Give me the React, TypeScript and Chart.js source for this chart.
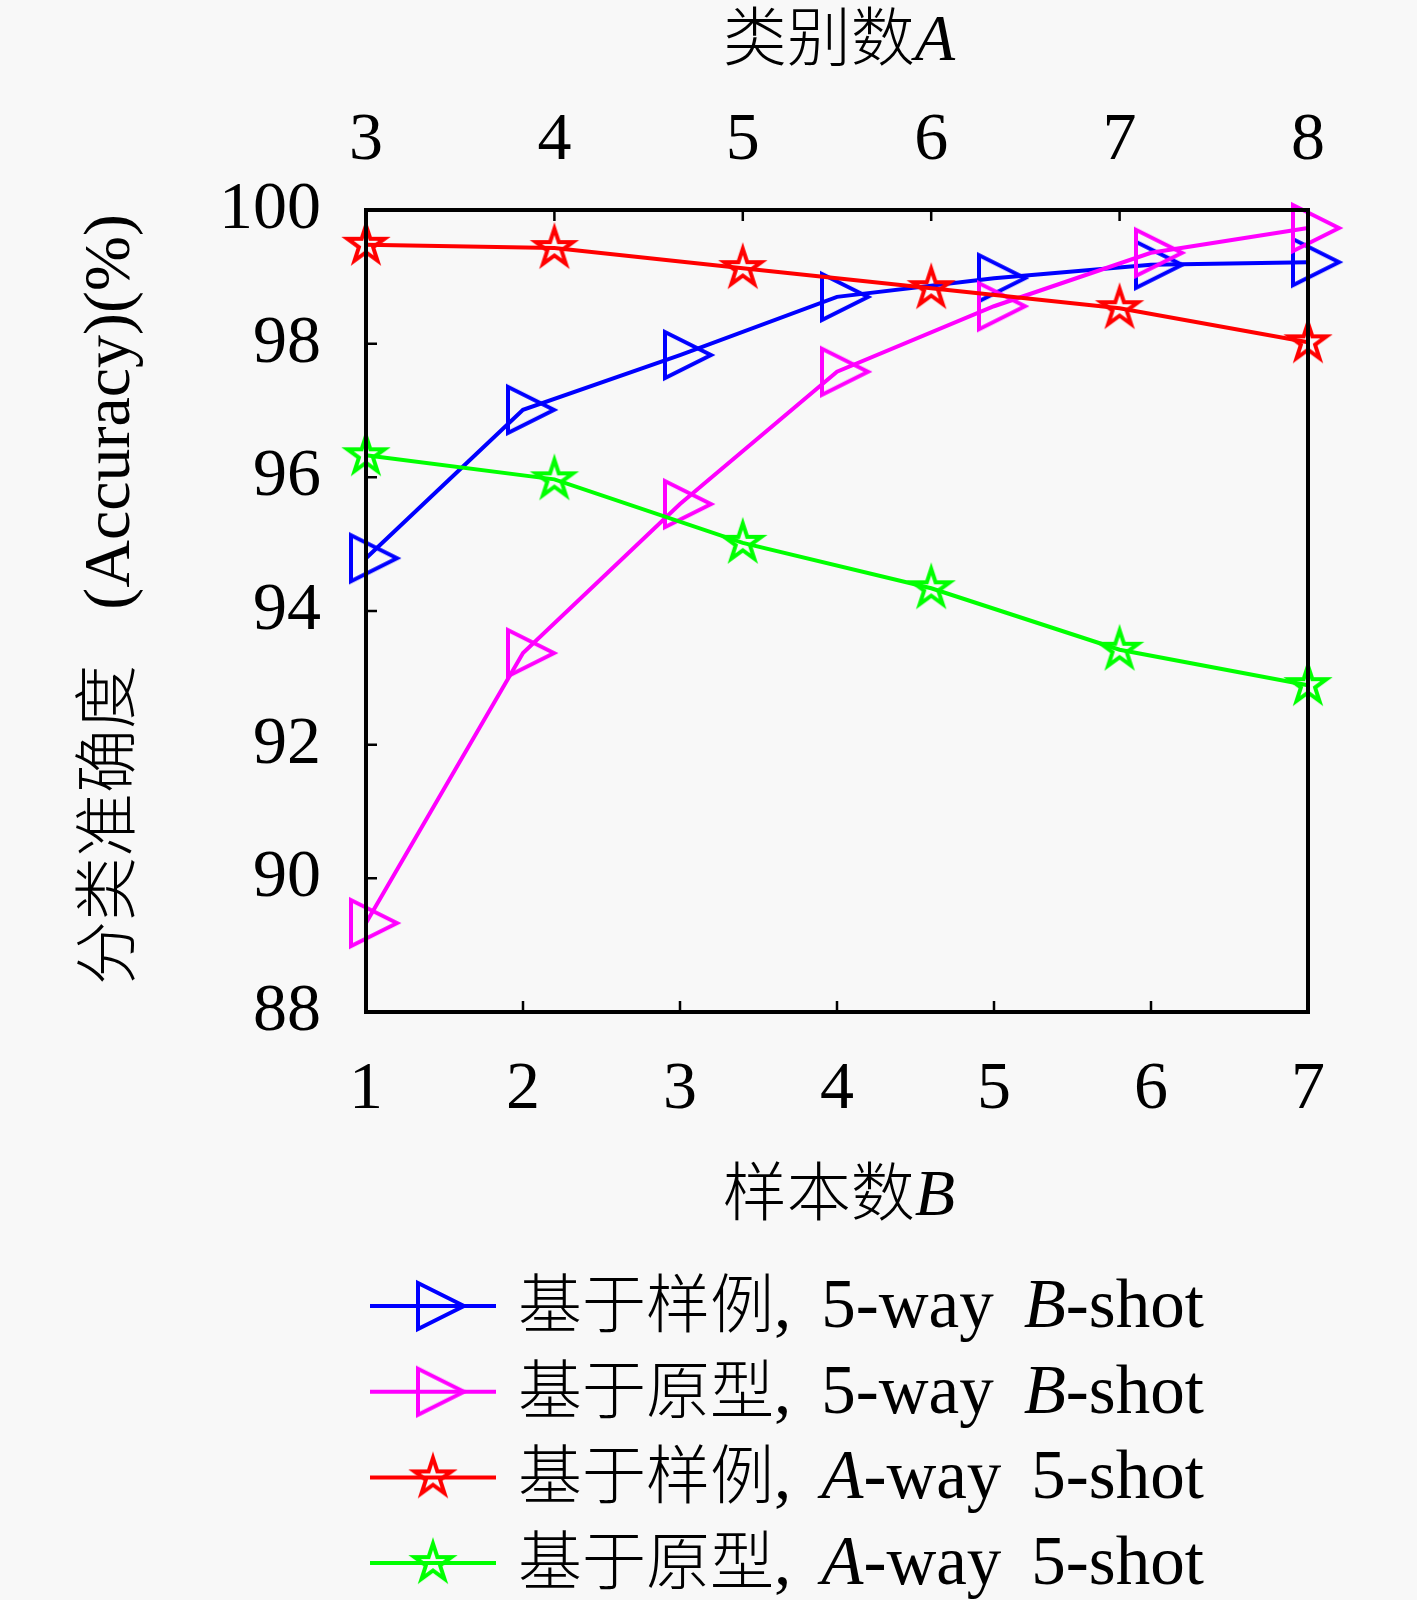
import { useEffect, useRef } from "react";
import { Chart, registerables } from "chart.js";

Chart.register(...registerables);

// 样本数 B (bottom axis) and 类别数 A (top axis)
const samplesB = [1, 2, 3, 4, 5, 6, 7];
const classesA = [3, 4, 5, 6, 7, 8];
const yTicks = [88, 90, 92, 94, 96, 98, 100];

// accuracy (%) per series
const exemplarWayB = [94.79, 97.01, 97.83, 98.7, 98.98, 99.18, 99.22];
const prototypeWayB = [89.33, 93.37, 95.6, 97.58, 98.56, 99.36, 99.73];
const exemplarWayA = [99.48, 99.43, 99.13, 98.83, 98.53, 98.02];
const prototypeWayA = [96.33, 95.97, 95.02, 94.34, 93.42, 92.89];

type Seg = [string, "cjk" | "rm" | "it" | "gap"];

const legendLabels: Seg[][] = [
  [["基于样例", "cjk"], [",", "rm"], ["", "gap"], ["5-way", "rm"], ["", "gap"], ["B", "it"], ["-shot", "rm"]],
  [["基于原型", "cjk"], [",", "rm"], ["", "gap"], ["5-way", "rm"], ["", "gap"], ["B", "it"], ["-shot", "rm"]],
  [["基于样例", "cjk"], [",", "rm"], ["", "gap"], ["A", "it"], ["-way", "rm"], ["", "gap"], ["5-shot", "rm"]],
  [["基于原型", "cjk"], [",", "rm"], ["", "gap"], ["A", "it"], ["-way", "rm"], ["", "gap"], ["5-shot", "rm"]],
];
const topTitle: Seg[] = [["类别数", "cjk"], ["A", "it"]];
const bottomTitle: Seg[] = [["样本数", "cjk"], ["B", "it"]];
const yTitleCjk: Seg[] = [["分类准确度", "cjk"]];
const yTitleRm: Seg[] = [["(Accuracy)(%)", "rm"]];

const SERIF = '"Liberation Serif", "DejaVu Serif", serif';
const CJK = '"Noto Sans CJK SC", sans-serif';

function fontFor(style: string, size: number, latinSize: number) {
  if (style === "cjk") return `300 ${size}px ${CJK}`;
  if (style === "it") return `italic ${latinSize}px ${SERIF}`;
  return `${latinSize}px ${SERIF}`;
}

function drawSegs(
  ctx: CanvasRenderingContext2D,
  segs: Seg[],
  x: number,
  y: number,
  size: number,
  align: string,
  latinSize = size,
  gap = 30
) {
  const widths = segs.map(([t, s]) => {
    if (s === "gap") return gap;
    ctx.font = fontFor(s, size, latinSize);
    return ctx.measureText(t).width;
  });
  const total = widths.reduce((a, b) => a + b, 0);
  let cx = align === "center" ? x - total / 2 : align === "right" ? x - total : x;
  ctx.textAlign = "left";
  ctx.textBaseline = "alphabetic";
  ctx.fillStyle = "#000";
  segs.forEach(([t, s], i) => {
    if (s !== "gap") {
      ctx.font = fontFor(s, size, latinSize);
      ctx.fillText(t, cx, y);
    }
    cx += widths[i];
  });
}

function makeTriangle(color: string) {
  const c = document.createElement("canvas");
  c.width = 80;
  c.height = 64;
  const g = c.getContext("2d")!;
  g.strokeStyle = color;
  g.lineWidth = 4;
  g.lineJoin = "miter";
  g.beginPath();
  g.moveTo(40 - 15, 32 - 23);
  g.lineTo(40 + 31, 32);
  g.lineTo(40 - 15, 32 + 23);
  g.closePath();
  g.stroke();
  return c;
}

function makeStar(color: string) {
  const c = document.createElement("canvas");
  c.width = 70;
  c.height = 70;
  const g = c.getContext("2d")!;
  const R = 19.5;
  const r = R * 0.382;
  g.strokeStyle = color;
  g.lineWidth = 4;
  g.lineJoin = "miter";
  g.beginPath();
  for (let k = 0; k < 10; k++) {
    const a = -Math.PI / 2 + (k * Math.PI) / 5;
    const rad = k % 2 === 0 ? R : r;
    const px = 35 + rad * Math.cos(a);
    const py = 35 + rad * Math.sin(a);
    if (k === 0) g.moveTo(px, py);
    else g.lineTo(px, py);
  }
  g.closePath();
  g.stroke();
  return c;
}

const framePlugin = {
  id: "framePlugin",
  beforeDraw(chart: any) {
    const ctx = chart.ctx;
    ctx.save();
    ctx.fillStyle = "#f8f8f8";
    ctx.fillRect(0, 0, chart.width, chart.height);
    ctx.restore();
  },
  afterDatasetsDraw(chart: any) {
    const { ctx, chartArea } = chart;
    const { left, right, top, bottom } = chartArea;
    const sx = chart.scales.x;
    const sx2 = chart.scales.x2;
    const sy = chart.scales.y;
    ctx.save();
    ctx.strokeStyle = "#000";
    ctx.lineWidth = 2.5;
    ctx.beginPath();
    sy.ticks.forEach((t: any) => {
      const py = sy.getPixelForValue(t.value);
      ctx.moveTo(left, py);
      ctx.lineTo(left + 11, py);
    });
    sx.ticks.forEach((t: any) => {
      const px = sx.getPixelForValue(t.value);
      ctx.moveTo(px, bottom);
      ctx.lineTo(px, bottom - 11);
    });
    sx2.ticks.forEach((t: any) => {
      const px = sx2.getPixelForValue(t.value);
      ctx.moveTo(px, top);
      ctx.lineTo(px, top + 11);
    });
    ctx.stroke();
    ctx.lineWidth = 4;
    ctx.strokeRect(left, top, right - left, bottom - top);
    ctx.restore();
  },
  afterDraw(chart: any) {
    const { ctx, chartArea } = chart;
    const { left, right, top, bottom } = chartArea;
    const mid = (left + right) / 2 + 2;
    ctx.save();
    drawSegs(ctx, topTitle, mid, 60, 64, "center", 66);
    drawSegs(ctx, bottomTitle, mid, bottom + 203, 64, "center", 66);

    ctx.save();
    ctx.translate(129, bottom - 27);
    ctx.rotate(-Math.PI / 2);
    drawSegs(ctx, yTitleCjk, 0, 0, 64, "left");
    ctx.restore();
    ctx.save();
    ctx.translate(129, top + 4);
    ctx.rotate(-Math.PI / 2);
    drawSegs(ctx, yTitleRm, 0, 0, 64, "right", 66);
    ctx.restore();

    // legend
    chart.data.datasets.forEach((ds: any, i: number) => {
      const rowY = 1306 + i * 85.7;
      ctx.strokeStyle = ds.borderColor;
      ctx.lineWidth = 4;
      ctx.beginPath();
      ctx.moveTo(left + 4, rowY);
      ctx.lineTo(left + 130, rowY);
      ctx.stroke();
      const img = ds.pointStyle as HTMLCanvasElement;
      ctx.drawImage(img, left + 67 - img.width / 2, rowY - img.height / 2);
      drawSegs(ctx, legendLabels[i], left + 152, rowY + 21, 64, "left", 69, 30);
    });
    ctx.restore();
  },
};

export default function App() {
  const chartRef = useRef<HTMLCanvasElement>(null);
  const chartInstance = useRef<Chart | null>(null);

  useEffect(() => {
    document.body.style.margin = "0";
    document.body.style.background = "#f8f8f8";
    if (!chartRef.current) return;
    const ctx = chartRef.current.getContext("2d");
    if (!ctx) return;
    if (chartInstance.current) chartInstance.current.destroy();

    const tickFont = { family: SERIF, size: 68 };
    const common = {
      tension: 0,
      fill: false,
      borderWidth: 4,
      pointRadius: 20,
      pointHoverRadius: 20,
      clip: false as any,
      yAxisID: "y",
    };

    chartInstance.current = new Chart(ctx, {
      type: "line",
      data: {
        datasets: [
          {
            ...common,
            label: "基于样例, 5-way B-shot",
            data: samplesB.map((b, i) => ({ x: b, y: exemplarWayB[i] })),
            xAxisID: "x",
            borderColor: "#0000ff",
            backgroundColor: "#0000ff",
            pointStyle: makeTriangle("#0000ff"),
            order: 4,
          },
          {
            ...common,
            label: "基于原型, 5-way B-shot",
            data: samplesB.map((b, i) => ({ x: b, y: prototypeWayB[i] })),
            xAxisID: "x",
            borderColor: "#ff00ff",
            backgroundColor: "#ff00ff",
            pointStyle: makeTriangle("#ff00ff"),
            order: 3,
          },
          {
            ...common,
            label: "基于样例, A-way 5-shot",
            data: classesA.map((a, i) => ({ x: a, y: exemplarWayA[i] })),
            xAxisID: "x2",
            borderColor: "#ff0000",
            backgroundColor: "#ff0000",
            pointStyle: makeStar("#ff0000"),
            order: 2,
          },
          {
            ...common,
            label: "基于原型, A-way 5-shot",
            data: classesA.map((a, i) => ({ x: a, y: prototypeWayA[i] })),
            xAxisID: "x2",
            borderColor: "#00ff00",
            backgroundColor: "#00ff00",
            pointStyle: makeStar("#00ff00"),
            order: 1,
          },
        ] as any,
      },
      options: {
        animation: false,
        responsive: true,
        maintainAspectRatio: false,
        layout: { padding: { left: 0, top: 0, right: 109, bottom: 0 } },
        plugins: {
          legend: { display: false },
          tooltip: { enabled: false },
        },
        scales: {
          x: {
            type: "linear",
            position: "bottom",
            min: samplesB[0],
            max: samplesB[samplesB.length - 1],
            ticks: { stepSize: 1, font: tickFont, color: "#000", padding: 29, maxRotation: 0, autoSkip: false },
            grid: { display: false },
            border: { display: false },
            afterFit: (s: any) => {
              s.height = 588;
            },
          },
          x2: {
            type: "linear",
            position: "top",
            min: classesA[0],
            max: classesA[classesA.length - 1],
            ticks: { stepSize: 1, font: tickFont, color: "#000", padding: 20, maxRotation: 0, autoSkip: false },
            grid: { display: false },
            border: { display: false },
            afterFit: (s: any) => {
              s.height = 210;
            },
          },
          y: {
            type: "linear",
            position: "left",
            min: yTicks[0],
            max: yTicks[yTicks.length - 1],
            ticks: { stepSize: yTicks[1] - yTicks[0], font: tickFont, color: "#000", padding: 37 },
            grid: { display: false },
            border: { display: false },
            afterFit: (s: any) => {
              s.width = 366;
            },
          },
        },
      },
      plugins: [framePlugin],
    });

    return () => {
      if (chartInstance.current) {
        chartInstance.current.destroy();
        chartInstance.current = null;
      }
    };
  }, []);

  return (
    <div style={{ position: "relative", width: 1417, height: 1600 }}>
      <canvas ref={chartRef}></canvas>
    </div>
  );
}
